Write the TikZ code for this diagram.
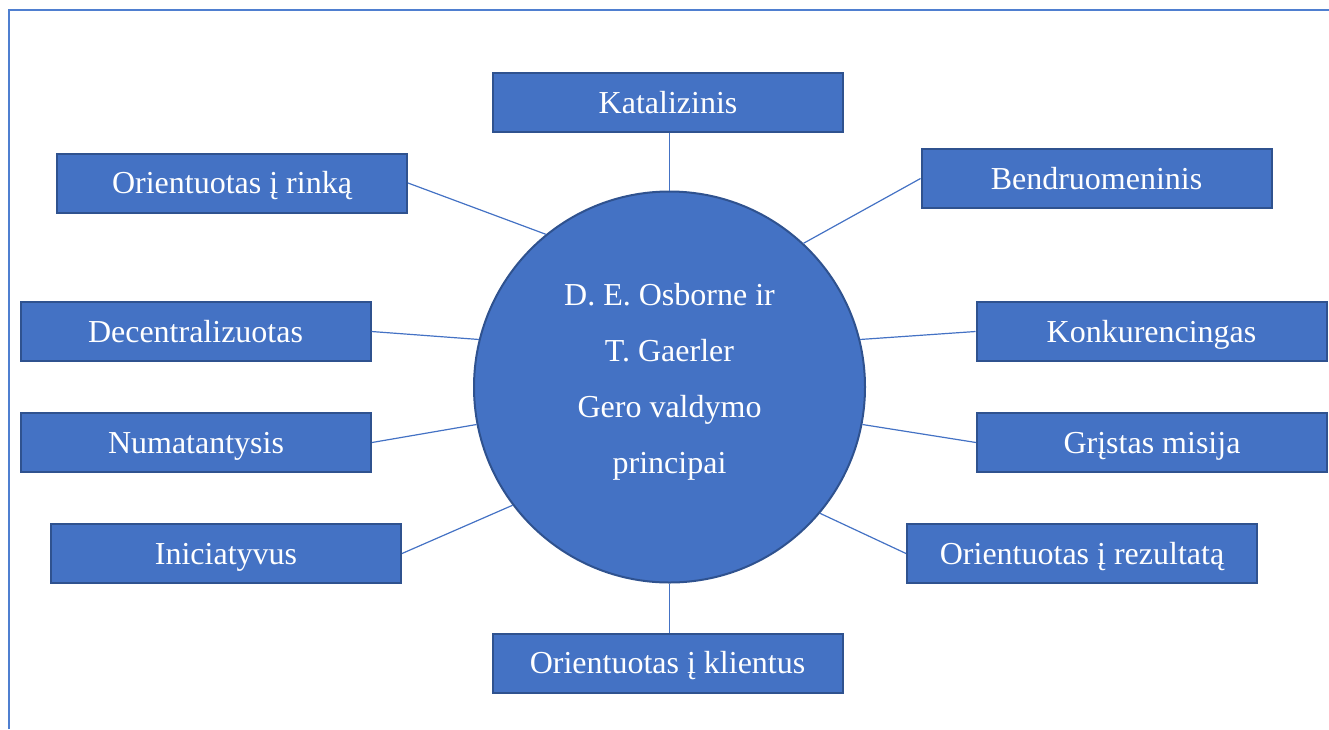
\documentclass[tikz,border=0pt]{standalone}
\usepackage{fontspec}
\setmainfont{Liberation Serif}
\definecolor{boxfill}{HTML}{4472C4}
\definecolor{boxline}{HTML}{2F528F}
\definecolor{linkcol}{HTML}{4472C4}
\definecolor{framecol}{HTML}{4F7FD0}
\begin{document}
\begin{tikzpicture}[x=1pt,y=-1pt,
  bx/.style={draw=boxline, fill=boxfill, line width=2pt, minimum width=350pt, minimum height=59pt,
    inner sep=0pt, text=white, font=\fontsize{32}{38}\selectfont, text height=21pt, text depth=0pt},
  hub/.style={circle, draw=boxline, fill=boxfill, line width=2pt, minimum size=391pt, inner sep=0pt},
  hubtext/.style={text=white, align=center, inner sep=0pt, font=\fontsize{32}{56}\selectfont},
  link/.style={draw=linkcol, line width=1.2pt},
  framestyle/.style={draw=framecol, line width=2.5pt}]
\useasboundingbox (0,0) rectangle (1329,729);
\draw[framestyle] (9,729) -- (9,10) -- (1329,10);

\node[hub] (c) at (669.5,387) {};
\node[hubtext] (ct) at (669.5,381.5) {D. E. Osborne ir\\T. Gaerler\\Gero valdymo\\principai};

\node[bx] (kat) at (668,102.5) {Katalizinis};
\node[bx] (rin) at (232,183) {Orientuotas į rinką};
\node[bx] (ben) at (1096.5,178.5) {Bendruomeninis};
\node[bx] (dec) at (195.5,331.5) {Decentralizuotas};
\node[bx] (kon) at (1151.5,331.5) {Konkurencingas};
\node[bx] (num) at (196,442.5) {Numatantysis};
\node[bx] (gri) at (1152,442.5) {Grįstas misija};
\node[bx] (ini) at (226,553.5) {Iniciatyvus};
\node[bx] (rez) at (1082,553.5) {Orientuotas į rezultatą};
\node[bx] (kli) at (667.5,663) {Orientuotas į klientus};

\draw[link] (kat.south -| c.north) -- (c.north);
\draw[link] (rin.east) -- (c.129.2);
\draw[link] (ben.west) -- (c.47);
\draw[link] (dec.east) -- (c.166.8);
\draw[link] (kon.west) -- (c.14.4);
\draw[link] (num.east) -- (c.191.9);
\draw[link] (gri.west) -- (c.-11.2);
\draw[link] (ini.east) -- (c.217.7);
\draw[link] (rez.west) -- (c.-40.8);
\draw[link] (c.south) -- (kli.north -| c.south);
\end{tikzpicture}
\end{document}
